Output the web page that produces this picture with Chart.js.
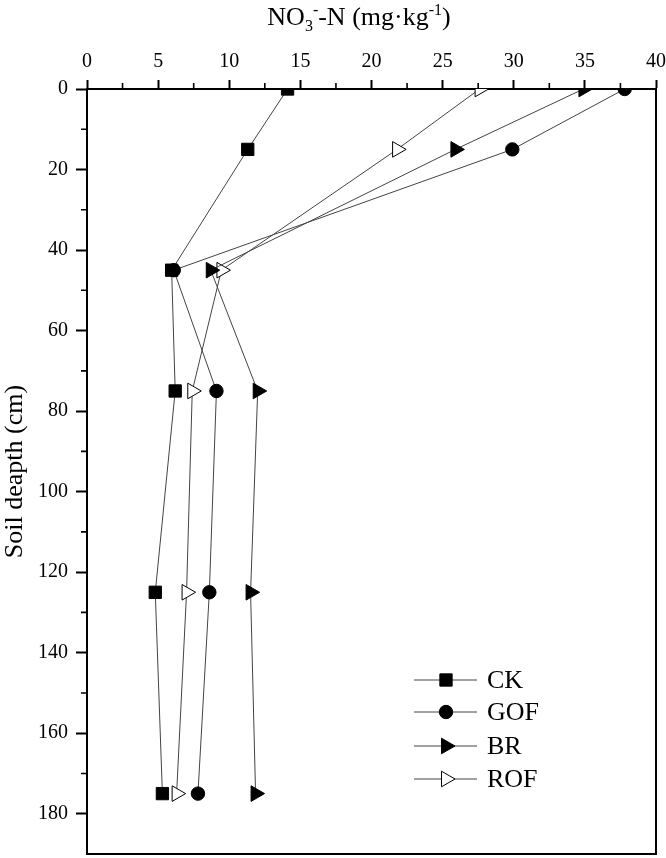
<!DOCTYPE html>
<html>
<head>
<meta charset="utf-8">
<script src="https://cdn.jsdelivr.net/npm/chart.js@4"></script>
<style>
  html, body { margin: 0; padding: 0; background: #fff; }
  #wrap { position: relative; width: 666px; height: 858px; }
  #c { position: absolute; left: 0; top: 0; }
  #xtitle { position: absolute; top: 2px; left: 0; width: 718px; text-align: center;
    font-family: "Liberation Serif", "Times New Roman", serif; font-size: 26px; color: #000; line-height: 30px; white-space: nowrap; }
  #xtitle sub, #xtitle sup { font-size: 16px; line-height: 0; }
  #xtitle sub { vertical-align: -6px; }
  #xtitle sup { vertical-align: 10px; }
</style>
</head>
<body>
<div id="wrap">
  <canvas id="c" width="666" height="858"></canvas>
  <div id="xtitle">NO<sub>3</sub><sup>-</sup>-N (mg·kg<sup>-1</sup>)</div>
</div>
<script>
// ---- data ----
const depths = [0, 15, 45, 75, 125, 175];
const seriesNames = ['CK', 'GOF', 'BR', 'ROF'];
const ckValues  = [14.1, 11.3, 5.95, 6.2, 4.8, 5.3];
const gofValues = [37.8, 29.9, 6.1, 9.1, 8.6, 7.8];
const brValues  = [34.9, 25.9, 8.7, 12.0, 11.5, 11.85];
const rofValues = [27.6, 21.8, 9.45, 7.4, 7.0, 6.3];
const xTickValues = [0, 5, 10, 15, 20, 25, 30, 35, 40];
const yTickValues = [0, 20, 40, 60, 80, 100, 120, 140, 160, 180];
const xMinorTicks = [2.5, 7.5, 12.5, 17.5, 22.5, 27.5, 32.5, 37.5];
const yMinorTicks = [10, 30, 50, 70, 90, 110, 130, 150, 170];

const FONT = '"Liberation Serif", "Times New Roman", serif';
const PLOT_BOTTOM = 854;

function pts(vals) { return vals.map((v, i) => ({ x: v, y: depths[i] })); }

const styles = [
  { pointStyle: 'rect', radius: 8.7, rot: 0, fill: '#000' },
  { pointStyle: 'circle', radius: 6.7, rot: 0, fill: '#000' },
  { pointStyle: 'triangle', radius: 9, rot: 90, fill: '#000' },
  { pointStyle: 'triangle', radius: 9, rot: 90, fill: '#fff' }
];
const allValues = [ckValues, gofValues, brValues, rofValues];

const datasets = allValues.map((vals, i) => ({
  label: seriesNames[i],
  data: pts(vals),
  borderColor: '#444',
  borderWidth: 1,
  pointStyle: styles[i].pointStyle,
  pointRadius: styles[i].radius,
  pointRotation: styles[i].rot,
  pointBackgroundColor: styles[i].fill,
  pointBorderColor: '#000',
  pointBorderWidth: 1,
  fill: false,
  tension: 0
}));

const framePlugin = {
  id: 'frame',
  afterLayout(chart) {
    const a = chart.chartArea, ys = chart.scales.y;
    a.bottom = PLOT_BOTTOM;
    a.height = a.bottom - a.top;
    ys.bottom = PLOT_BOTTOM;
    ys.height = ys.bottom - ys.top;
    ys.configure();
    ys._labelItems = null;
    ys._gridLineItems = null;
  },
  afterDraw(chart) {
    const ctx = chart.ctx, a = chart.chartArea;
    const xs = chart.scales.x, ys = chart.scales.y;
    ctx.save();
    ctx.strokeStyle = '#000';
    ctx.lineWidth = 2;
    ctx.beginPath();
    ctx.moveTo(a.right, a.top); ctx.lineTo(a.right, a.bottom);
    ctx.moveTo(a.left - 1, a.bottom); ctx.lineTo(a.right + 1, a.bottom);
    ctx.stroke();
    // minor ticks
    ctx.lineWidth = 1.6;
    ctx.beginPath();
    xMinorTicks.forEach(v => {
      const px = xs.getPixelForValue(v);
      ctx.moveTo(px, a.top); ctx.lineTo(px, a.top - 6);
    });
    yMinorTicks.forEach(v => {
      const py = ys.getPixelForValue(v);
      ctx.moveTo(a.left, py); ctx.lineTo(a.left - 6, py);
    });
    ctx.stroke();
    // legend
    const lx0 = a.right - 242, lx1 = a.right - 179, mx = a.right - 210, tx = a.right - 169;
    const rowY = [680, 712, 746, 779];
    ctx.font = '26px ' + FONT;
    ctx.textBaseline = 'middle';
    ctx.textAlign = 'left';
    datasets.forEach((ds, i) => {
      const y = rowY[i];
      ctx.strokeStyle = '#444';
      ctx.lineWidth = 1;
      ctx.beginPath();
      ctx.moveTo(lx0, y); ctx.lineTo(lx1, y);
      ctx.stroke();
      ctx.fillStyle = styles[i].fill;
      ctx.strokeStyle = '#000';
      ctx.lineWidth = 1;
      Chart.helpers.drawPoint(ctx, {
        pointStyle: styles[i].pointStyle,
        rotation: styles[i].rot,
        radius: styles[i].radius,
        borderWidth: 1
      }, mx, y);
      ctx.fillStyle = '#000';
      ctx.fillText(ds.label, tx, y + 1);
    });
    ctx.restore();
  }
};

function zeroPad(scale) {
  scale.paddingLeft = 0; scale.paddingRight = 0;
  scale.paddingTop = 0; scale.paddingBottom = 0;
}

new Chart(document.getElementById('c'), {
  type: 'line',
  data: { datasets },
  options: {
    responsive: false,
    animation: false,
    indexAxis: 'y',
    layout: { padding: { left: 0, right: 9, top: 0, bottom: 4 } },
    plugins: { legend: { display: false }, tooltip: { enabled: false }, title: { display: false } },
    events: [],
    scales: {
      x: {
        type: 'linear',
        position: 'top',
        min: 0, max: 40,
        afterBuildTicks(scale) { scale.ticks = xTickValues.map(v => ({ value: v })); },
        afterFit(scale) { scale.height = 89; zeroPad(scale); },
        ticks: { color: '#000', font: { family: FONT, size: 20 }, padding: 6, maxRotation: 0, autoSkip: false },
        grid: { drawOnChartArea: false, drawTicks: true, tickLength: 9, tickWidth: 2, tickColor: '#000' },
        border: { display: true, color: '#000', width: 2 }
      },
      y: {
        type: 'linear',
        position: 'left',
        reverse: true,
        min: 0, max: 190,
        afterBuildTicks(scale) { scale.ticks = yTickValues.map(v => ({ value: v })); },
        afterFit(scale) { scale.width = 87; zeroPad(scale); },
        ticks: { color: '#000', font: { family: FONT, size: 20 }, padding: 8, autoSkip: false },
        grid: { drawOnChartArea: false, drawTicks: true, tickLength: 11, tickWidth: 2, tickColor: '#000' },
        border: { display: true, color: '#000', width: 2 },
        title: { display: true, text: 'Soil deapth (cm)', color: '#000', font: { family: FONT, size: 26 }, padding: { top: 0, bottom: 0 } }
      }
    }
  },
  plugins: [framePlugin]
});
</script>
</body>
</html>
